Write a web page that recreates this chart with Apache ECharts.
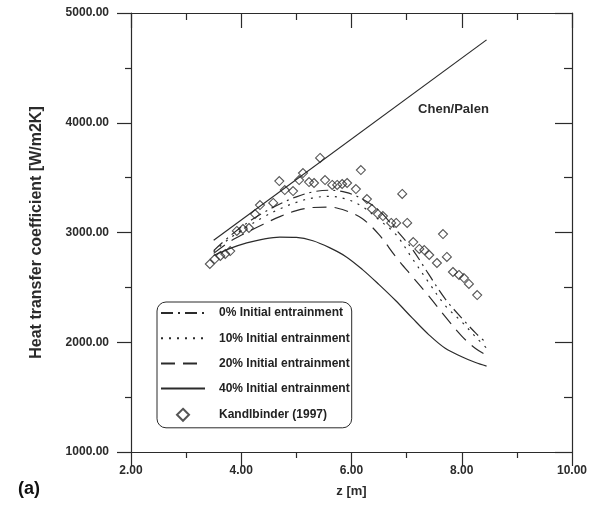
<!DOCTYPE html>
<html>
<head>
<meta charset="utf-8">
<script src="https://cdn.jsdelivr.net/npm/echarts@6/dist/echarts.min.js"></script>
<style>
  html, body { margin: 0; padding: 0; background: #fff; }
  #chart { width: 596px; height: 508px; }
</style>
</head>
<body>
<div id="chart"></div>
<script>
// Axial position along the tube [m] shared by the model curves
var zModel = [3.5, 3.8, 4.1, 4.4, 4.7, 5.0, 5.3, 5.6, 5.9, 6.2, 6.5, 6.8, 7.1, 7.4, 7.7, 8.0, 8.25, 8.45];

// Heat transfer coefficient [W/m2K] for each initial entrainment fraction
var h0 = [2835, 2970, 3085, 3180, 3260, 3325, 3370, 3385, 3365, 3305, 3200, 3030, 2850, 2620, 2395, 2220, 2085, 1993];
var h10 = [2825, 2950, 3050, 3140, 3215, 3275, 3315, 3330, 3305, 3235, 3115, 2985, 2765, 2545, 2335, 2186, 2050, 1947];
var h20 = [2810, 2920, 3000, 3075, 3145, 3200, 3228, 3232, 3198, 3125, 2980, 2781, 2600, 2422, 2233, 2056, 1943, 1882];
var h40 = [2790, 2855, 2905, 2940, 2958, 2955, 2925, 2862, 2780, 2662, 2525, 2380, 2222, 2070, 1945, 1868, 1815, 1782];

// Chen/Palen correlation (straight line)
var chenZ = [3.5, 8.45];
var chenH = [2930, 4755];

// Kandlbinder (1997) measurements
var kandZ = [3.43, 3.52, 3.62, 3.71, 3.80, 3.92, 4.03, 4.14, 4.25, 4.34, 4.58, 4.69, 4.79, 4.94, 5.05, 5.12,
             5.23, 5.32, 5.43, 5.52, 5.65, 5.74, 5.83, 5.92, 6.08, 6.17, 6.28, 6.37, 6.48, 6.57, 6.72, 6.81,
             6.92, 7.01, 7.12, 7.23, 7.32, 7.41, 7.55, 7.66, 7.73, 7.84, 7.95, 8.04, 8.13, 8.28];
var kandH = [2713, 2758, 2786, 2804, 2831, 3014, 3032, 3041, 3168, 3250, 3269, 3469, 3387, 3378, 3478, 3542,
             3460, 3451, 3679, 3478, 3433, 3433, 3442, 3451, 3396, 3569, 3305, 3214, 3168, 3150, 3087, 3087,
             3351, 3087, 2913, 2850, 2840, 2795, 2722, 2986, 2777, 2640, 2613, 2585, 2531, 2430];

var seriesNames = ['0% Initial entrainment', '10% Initial entrainment', '20% Initial entrainment',
                   '40% Initial entrainment', 'Kandlbinder (1997)'];

function pairs(xs, ys) {
  return xs.map(function (x, i) { return [x, ys[i]]; });
}

var ink = '#2b2b2b';
var fontFam = '"Liberation Sans", Arial, Helvetica, sans-serif';

function lineSeries(name, values, dash) {
  return {
    name: name,
    type: 'line',
    data: pairs(zModel, values),
    smooth: 0.35,
    symbol: 'none',
    lineStyle: { color: ink, width: 1.2, type: dash },
    itemStyle: { color: ink },
    silent: true
  };
}

var chart = echarts.init(document.getElementById('chart'));

var xCommon = { type: 'value', min: 2, max: 10, interval: 2, splitLine: { show: false },
  axisLine: { show: true, onZero: false, lineStyle: { color: ink, width: 1.2 } },
  minorTick: { show: true, splitNumber: 2, length: 6, lineStyle: { color: ink, width: 1.2 } } };
var yCommon = { type: 'value', min: 1000, max: 5000, interval: 1000, splitLine: { show: false },
  axisLine: { show: true, onZero: false, lineStyle: { color: ink, width: 1.2 } },
  minorTick: { show: true, splitNumber: 2, length: 6, lineStyle: { color: ink, width: 1.2 } } };

// Legend entries: line samples without a marker for the model curves, a hollow diamond for the data
var diamondIcon = 'path://M5,0L10,5L5,10L0,5Z';
var legendData = seriesNames.map(function (n, i) {
  return i < 4 ? { name: n, itemStyle: { opacity: 0 } } : { name: n, icon: diamondIcon };
});

chart.setOption({
  animation: false,
  backgroundColor: '#fff',
  grid: { left: 131, right: 24, top: 13, bottom: 56, containLabel: false },
  xAxis: [
    Object.assign({}, xCommon, {
      position: 'bottom',
      name: 'z [m]', nameLocation: 'middle', nameGap: 33,
      nameTextStyle: { fontFamily: fontFam, fontSize: 13, fontWeight: 'bold', color: ink },
      axisTick: { show: true, length: 14, inside: false, lineStyle: { color: ink, width: 1.2 } },
      axisLabel: { show: true, margin: 13, fontFamily: fontFam, fontSize: 12, fontWeight: 'bold', color: ink,
        formatter: function (v) { return v.toFixed(2); } }
    }),
    Object.assign({}, xCommon, {
      position: 'top',
      axisTick: { show: true, length: 15, inside: true, lineStyle: { color: ink, width: 1.2 } },
      minorTick: { show: true, splitNumber: 2, length: 7, lineStyle: { color: ink, width: 1.2 } },
      axisLabel: { show: false }
    })
  ],
  yAxis: [
    Object.assign({}, yCommon, {
      position: 'left',
      name: 'Heat transfer coefficient [W/m2K]', nameLocation: 'middle', nameGap: 86,
      nameTextStyle: { fontFamily: fontFam, fontSize: 16, fontWeight: 'bold', color: ink },
      axisTick: { show: true, length: 14, inside: false, lineStyle: { color: ink, width: 1.2 } },
      axisLabel: { show: true, margin: 22, fontFamily: fontFam, fontSize: 12, fontWeight: 'bold', color: ink,
        formatter: function (v) { return v.toFixed(2); } }
    }),
    Object.assign({}, yCommon, {
      position: 'right',
      axisTick: { show: true, length: 17, inside: true, lineStyle: { color: ink, width: 1.2 } },
      minorTick: { show: true, splitNumber: 2, length: 8, lineStyle: { color: ink, width: 1.2 } },
      axisLabel: { show: false }
    })
  ],
  legend: {
    orient: 'vertical',
    left: 157, top: 302,
    padding: [5, 2, 6, 3],
    itemWidth: 44, itemHeight: 12, itemGap: 13.2,
    symbolKeepAspect: true,
    borderColor: ink, borderWidth: 1, borderRadius: 9,
    selectedMode: false,
    textStyle: { fontFamily: fontFam, fontSize: 12, fontWeight: 'bold', color: '#222', padding: [0, 0, 0, 9] },
    data: legendData
  },
  graphic: [{
    type: 'text', left: 18, top: 480,
    style: { text: '(a)', fontFamily: fontFam, fontSize: 18, fontWeight: 'bold', fill: '#111' }
  }],
  series: [
    lineSeries(seriesNames[0], h0, [12, 5, 2, 5]),
    lineSeries(seriesNames[1], h10, [2, 6]),
    lineSeries(seriesNames[2], h20, [14, 8]),
    lineSeries(seriesNames[3], h40, 'solid'),
    {
      name: 'Chen/Palen',
      type: 'line',
      data: pairs(chenZ, chenH),
      symbol: 'none',
      lineStyle: { color: ink, width: 1.2 },
      silent: true,
      markPoint: {
        symbol: 'circle', symbolSize: 0,
        data: [{ coord: [7.85, 4125] }],
        label: { show: true, position: 'inside', formatter: 'Chen/Palen',
          fontFamily: fontFam, fontSize: 13, fontWeight: 'bold', color: ink }
      }
    },
    {
      name: seriesNames[4],
      type: 'scatter',
      data: pairs(kandZ, kandH),
      symbol: 'diamond',
      symbolSize: 9,
      itemStyle: { color: 'rgba(255,255,255,0)', borderColor: ink, borderWidth: 1.1 },
      silent: true
    }
  ]
});
</script>
</body>
</html>
